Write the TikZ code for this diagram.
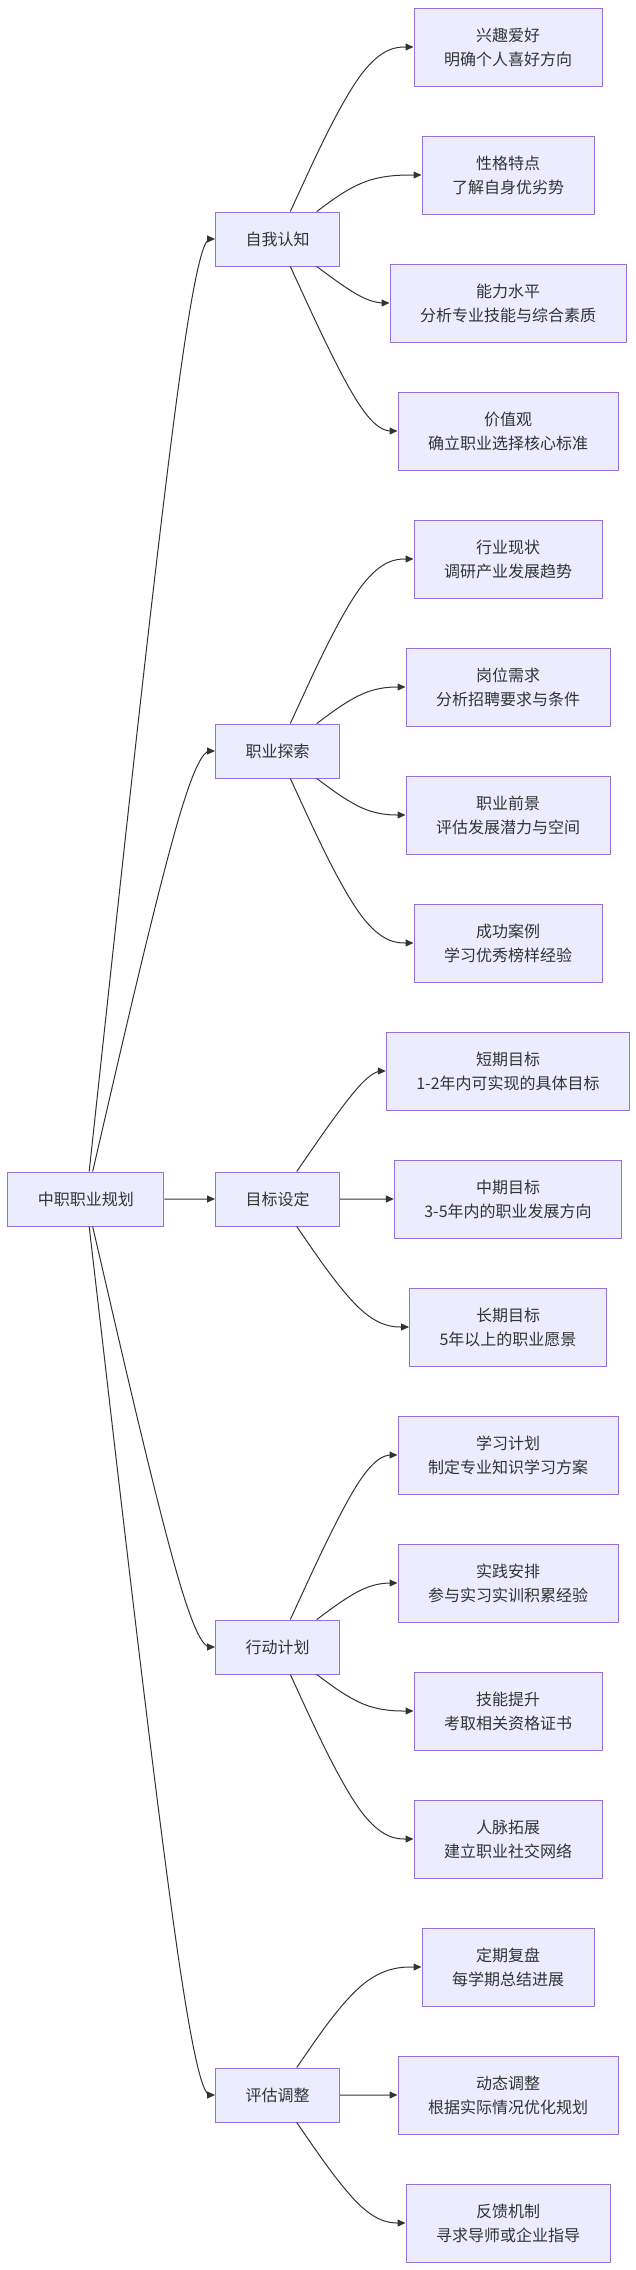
\documentclass[tikz,border=0pt]{standalone}
\usepackage{fontspec}
\setmainfont{Noto Sans CJK SC}
\usetikzlibrary{calc,arrows.meta}
\definecolor{nodefill}{HTML}{ECECFF}
\definecolor{nodeline}{HTML}{9370DB}
\definecolor{txt}{HTML}{333333}
\definecolor{edgecol}{HTML}{333333}
\tikzset{
  box/.style={draw=nodeline, fill=nodefill, text=txt, line width=1pt, align=center,
    font=\fontsize{16pt}{24pt}\selectfont, inner xsep=30pt, inner ysep=0pt},
  lone/.style={box, minimum height=54pt},
  ltwo/.style={box, minimum height=78pt},
  edge/.style={draw=edgecol, line width=1pt, -{Triangle[length=8pt,width=7pt]}}
}
\newcommand\mmedge[3]{%
  \coordinate (P1) at (#2.center -| #3);
  \path let \p1=($(P1)-(#1.center)$), \n1={atan2(\y1,\x1)} in (#1.\n1) coordinate (P0);
  \coordinate (P2) at (#2.west);
  \draw[edge] (P0) -- ($(P0)!0.166667!(P1)$)
    .. controls ($(P0)!0.333333!(P1)$) and ($(P0)!0.666667!(P1)$) ..
    ($0.166667*(P0)+0.666667*(P1)+0.166667*(P2)$)
    .. controls ($(P1)!0.333333!(P2)$) and ($(P1)!0.666667!(P2)$) ..
    ($(P1)!0.833333!(P2)$) -- (P2);
}
\begin{document}
\begin{tikzpicture}[x=1pt,y=-1pt]
\useasboundingbox (0,0) rectangle (636,2270);
\coordinate (mA) at (190,0);
\coordinate (mB) at (366,0);
% root
\node[lone] (root) at (85.8,1199) {中职职业规划};
% level 1
\node[lone] (s1) at (277.5,239) {自我认知};
\node[lone] (s2) at (277.5,751) {职业探索};
\node[lone] (s3) at (277.5,1199) {目标设定};
\node[lone] (s4) at (277.5,1647) {行动计划};
\node[lone] (s5) at (277.5,2095) {评估调整};
% level 2
\node[ltwo] (c1) at (508,47) {兴趣爱好\\明确个人喜好方向};
\node[ltwo] (c2) at (508,175) {性格特点\\了解自身优劣势};
\node[ltwo] (c3) at (508,303) {能力水平\\分析专业技能与综合素质};
\node[ltwo] (c4) at (508,431) {价值观\\确立职业选择核心标准};
\node[ltwo] (c5) at (508,559) {行业现状\\调研产业发展趋势};
\node[ltwo] (c6) at (508,687) {岗位需求\\分析招聘要求与条件};
\node[ltwo] (c7) at (508,815) {职业前景\\评估发展潜力与空间};
\node[ltwo] (c8) at (508,943) {成功案例\\学习优秀榜样经验};
\node[ltwo] (c9) at (508,1071) {短期目标\\1-2年内可实现的具体目标};
\node[ltwo] (c10) at (508,1199) {中期目标\\3-5年内的职业发展方向};
\node[ltwo] (c11) at (508,1327) {长期目标\\5年以上的职业愿景};
\node[ltwo] (c12) at (508,1455) {学习计划\\制定专业知识学习方案};
\node[ltwo] (c13) at (508,1583) {实践安排\\参与实习实训积累经验};
\node[ltwo] (c14) at (508,1711) {技能提升\\考取相关资格证书};
\node[ltwo] (c15) at (508,1839) {人脉拓展\\建立职业社交网络};
\node[ltwo] (c16) at (508,1967) {定期复盘\\每学期总结进展};
\node[ltwo] (c17) at (508,2095) {动态调整\\根据实际情况优化规划};
\node[ltwo] (c18) at (508,2223) {反馈机制\\寻求导师或企业指导};
% edges root -> level 1
\mmedge{root}{s1}{mA}
\mmedge{root}{s2}{mA}
\mmedge{root}{s3}{mA}
\mmedge{root}{s4}{mA}
\mmedge{root}{s5}{mA}
% edges level 1 -> level 2
\mmedge{s1}{c1}{mB}
\mmedge{s1}{c2}{mB}
\mmedge{s1}{c3}{mB}
\mmedge{s1}{c4}{mB}
\mmedge{s2}{c5}{mB}
\mmedge{s2}{c6}{mB}
\mmedge{s2}{c7}{mB}
\mmedge{s2}{c8}{mB}
\mmedge{s3}{c9}{mB}
\mmedge{s3}{c10}{mB}
\mmedge{s3}{c11}{mB}
\mmedge{s4}{c12}{mB}
\mmedge{s4}{c13}{mB}
\mmedge{s4}{c14}{mB}
\mmedge{s4}{c15}{mB}
\mmedge{s5}{c16}{mB}
\mmedge{s5}{c17}{mB}
\mmedge{s5}{c18}{mB}
\end{tikzpicture}
\end{document}
